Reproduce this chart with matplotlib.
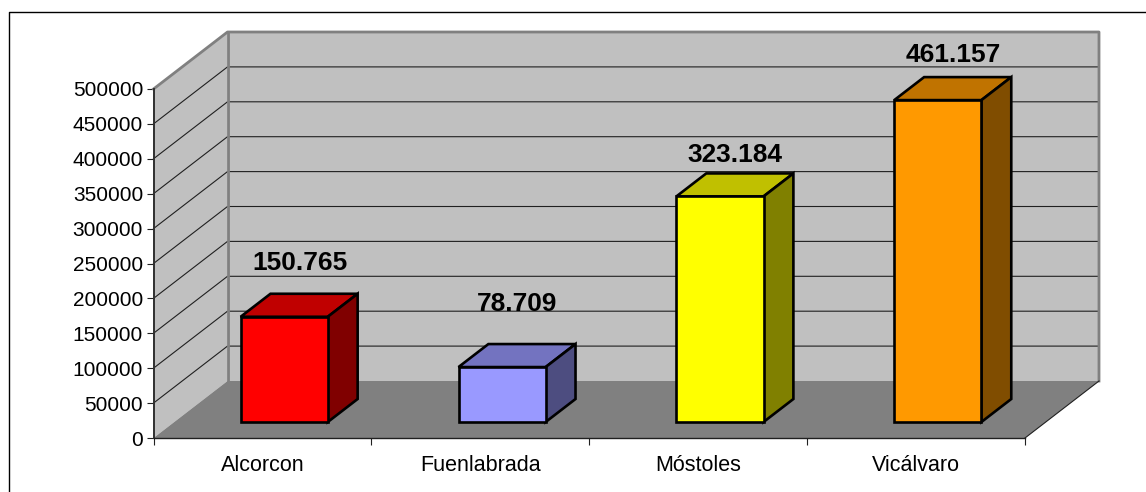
import matplotlib
matplotlib.use('Agg')
import matplotlib.pyplot as plt
from matplotlib.lines import Line2D

plt.rcParams['font.family'] = ['Liberation Sans', 'DejaVu Sans']

categories = ['Alcorcon', 'Fuenlabrada', 'Móstoles', 'Vicálvaro']
values = [150765, 78709, 323184, 461157]
labels = ['150.765', '78.709', '323.184', '461.157']
front_colors = ['#ff0000', '#9999ff', '#ffff00', '#ff9900']
top_colors = ['#c00000', '#7373c0', '#c0c000', '#c07300']
side_colors = ['#800000', '#4d4d80', '#808000', '#804d00']
label_gaps = [31, 40, 18, 22]

W, H = 1146, 492
fig = plt.figure(figsize=(W / 100, H / 100), dpi=100)
ax = fig.add_axes([153.5 / W, (H - 438) / H, 871.5 / W, 349 / H])
ax.set_xlim(0, 4)
ax.set_ylim(0, 500000)

# one px in data units
px_x = 4 / 871.5
px_y = 500000 / 349
DX = 74 * px_x
DY = 57 * px_y


def depth(x, y, d):
    return x + d * DX, y + d * DY


def face(points, **kw):
    xs = [p[0] for p in points]
    ys = [p[1] for p in points]
    ax.fill(xs, ys, clip_on=False, **kw)


# walls and floor
face([depth(0, 0, 0), depth(0, 0, 1), depth(0, 500000, 1), depth(0, 500000, 0)],
     facecolor='#c0c0c0', edgecolor='none', zorder=1)
face([depth(0, 0, 1), depth(4, 0, 1), depth(4, 500000, 1), depth(0, 500000, 1)],
     facecolor='#c0c0c0', edgecolor='none', zorder=1)
face([depth(0, 0, 0), depth(4, 0, 0), depth(4, 0, 1), depth(0, 0, 1)],
     facecolor='#808080', edgecolor='none', zorder=2)

# gridlines
for v in range(50000, 500000, 50000):
    p0, p1, p2 = depth(0, v, 0), depth(0, v, 1), depth(4, v, 1)
    ax.plot([p0[0], p1[0], p2[0]], [p0[1], p1[1], p2[1]], color='#202020', lw=0.8,
            clip_on=False, zorder=3, solid_joinstyle='miter')

# wall outline
wall_x = [depth(0, 500000, 0)[0], depth(0, 500000, 1)[0], depth(4, 500000, 1)[0], depth(4, 0, 1)[0]]
wall_y = [depth(0, 500000, 0)[1], depth(0, 500000, 1)[1], depth(4, 500000, 1)[1], depth(4, 0, 1)[1]]
ax.plot(wall_x, wall_y, color='#808080', lw=2, clip_on=False, zorder=3)
ax.plot([depth(0, 0, 1)[0], depth(0, 500000, 1)[0]], [depth(0, 0, 1)[1], depth(0, 500000, 1)[1]],
        color='#808080', lw=2, clip_on=False, zorder=3)
ax.plot([depth(4, 0, 0)[0], depth(4, 0, 1)[0]], [depth(4, 0, 0)[1], depth(4, 0, 1)[1]],
        color='#202020', lw=0.8, clip_on=False, zorder=3)

# bars
bar_w = 0.4
d0 = 16 / 57
d1 = 39 / 57
nudge = 1 * px_x
for i, v in enumerate(values):
    left = i + 0.5 - bar_w / 2 + nudge
    right = left + bar_w
    x0, y0 = depth(left, 0, d0)
    ax.bar(x0, v, bar_w, bottom=y0, align='edge', facecolor=front_colors[i],
           edgecolor='black', linewidth=1.9, clip_on=False, zorder=5)
    face([depth(left, v, d0), depth(right, v, d0), depth(right, v, d1), depth(left, v, d1)],
         facecolor=top_colors[i], edgecolor='black', linewidth=1.9, zorder=4)
    face([depth(right, 0, d0), depth(right, 0, d1), depth(right, v, d1), depth(right, v, d0)],
         facecolor=side_colors[i], edgecolor='black', linewidth=1.9, zorder=4)
    tx, ty = depth(i + 0.5, v, d1)
    ax.text(tx - 13.5 * px_x, ty + label_gaps[i] * px_y, labels[i], fontsize=18.9, fontweight='bold',
            ha='center', va='center', color='black', zorder=6, clip_on=False)

# axes
for s in ['top', 'right']:
    ax.spines[s].set_visible(False)
ax.spines['left'].set_color('#303030')
ax.spines['bottom'].set_color('#202020')
ax.spines['left'].set_linewidth(1.4)
ax.spines['bottom'].set_linewidth(1.0)
for s in ['left', 'bottom']:
    ax.spines[s].set_zorder(4)
ax.patch.set_visible(False)

ax.set_yticks(range(0, 500001, 50000))
ax.set_yticklabels([str(t) for t in range(0, 500001, 50000)], fontsize=15)
ax.tick_params(axis='y', length=5, width=0.8, pad=2.5, color='#202020', colors='black')
ax.set_xticks(range(5))
ax.set_xticklabels([])
ax.tick_params(axis='x', length=5, width=0.8, color='#202020')
ax.set_xticks([i + 0.5 for i in range(4)], minor=True)
ax.set_xticklabels(categories, minor=True, fontsize=15.5)
ax.tick_params(axis='x', which='minor', length=0, pad=12)

# outer frame, left and top only
fig.add_artist(Line2D([8.5 / W, 8.5 / W, 1], [0, (H - 11.5) / H, (H - 11.5) / H],
                      color='black', lw=1.0))

fig.savefig('out.png', dpi=100)
